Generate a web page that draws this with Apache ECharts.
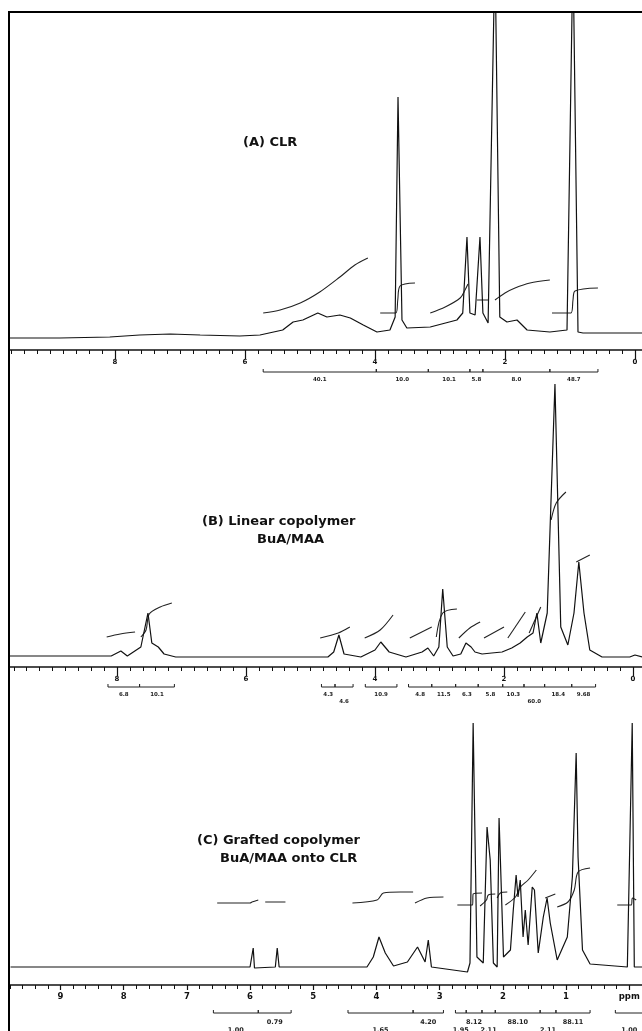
<!DOCTYPE html>
<html><head><meta charset="utf-8">
<script src="https://cdn.jsdelivr.net/npm/echarts@6/dist/echarts.min.js"></script>
<style>html,body{margin:0;padding:0;background:#fff}#c{width:642px;height:1031px}</style>
</head><body><div id="c"></div>
<script>
// ---------- DATA (ppm, intensity) ----------
const aSpectrum = [[9.62,-3],[8.85,-3],[8.08,-2],[7.62,0],[7.15,1],[6.69,0],[6.08,-1],[5.77,0],[5.42,5],[5.26,13],[5.11,15],[4.88,22],[4.74,18],[4.54,20],[4.38,17],[4.18,10],[3.97,3],[3.77,5],[3.69,18],[3.646,238],[3.585,15],[3.51,7],[3.15,8],[2.74,15],[2.65,22],[2.585,98],[2.54,22],[2.46,20],[2.385,98],[2.34,22],[2.26,12],[2.154,385],[2.08,18],[1.97,13],[1.815,15],[1.66,5],[1.31,3],[1.046,5],[0.954,385],[0.877,3],[0.80,2],[-0.108,2]];
const aIntegrals = [
  [[5.72,22],[5.46,25],[5.15,32],[4.85,43],[4.54,58],[4.31,70],[4.11,77]],
  [[3.92,22],[3.68,22],[3.65,35],[3.615,49],[3.385,52]],
  [[3.15,22],[2.92,28],[2.69,37],[2.615,45],[2.57,51]],
  [[2.43,35],[2.26,35]],
  [[2.154,35],[2.0,42],[1.846,47],[1.615,52],[1.31,55]],
  [[1.277,22],[0.985,22],[0.954,35],[0.923,44],[0.57,47]]
];
const aBrackets = [[5.72,3.98,'40.1'],[3.98,3.18,'10.0'],[3.18,2.54,'10.1'],[2.54,2.34,'5.8'],[2.34,1.31,'8.0'],[1.31,0.57,'48.7']];

const bSpectrum = [[9.66,1],[8.88,1],[8.09,1],[7.94,6],[7.84,1],[7.63,10],[7.52,44],[7.46,14],[7.36,10],[7.27,3],[7.09,0],[4.73,0],[4.64,5],[4.56,22],[4.48,3],[4.22,0],[4.0,7],[3.91,15],[3.78,5],[3.52,0],[3.27,5],[3.18,9],[3.09,1],[3.01,10],[2.95,68],[2.88,10],[2.79,1],[2.67,3],[2.59,14],[2.51,10],[2.45,5],[2.34,3],[2.19,4],[2.03,5],[1.88,9],[1.75,14],[1.64,20],[1.55,24],[1.49,44],[1.43,14],[1.33,44],[1.21,273],[1.12,30],[1.01,12],[0.915,44],[0.84,95],[0.76,44],[0.67,7],[0.48,0],[0.05,0],[-0.03,2],[-0.14,0]];
const bIntegrals = [
  [[8.16,20],[7.95,23],[7.72,25]],
  [[7.63,20],[7.55,27],[7.5,43],[7.33,50],[7.15,54]],
  [[4.85,19],[4.57,24],[4.39,30]],
  [[4.16,19],[3.92,27],[3.72,42]],
  [[3.46,19],[3.12,30]],
  [[3.05,20],[2.95,44],[2.73,48]],
  [[2.70,19],[2.53,29],[2.37,35]],
  [[2.31,19],[2.0,30]],
  [[1.94,19],[1.67,45]],
  [[1.61,24],[1.43,50]],
  [[1.27,137],[1.19,154],[1.04,165]],
  [[0.88,95],[0.67,102]]
];
const bBrackets = [[8.14,7.65,'6.8'],[7.65,7.11,'10.1'],[4.83,4.62,'4.3'],[4.62,4.34,'4.6'],[4.15,3.66,'10.9'],[3.48,3.12,'4.8'],[3.12,2.75,'11.5'],[2.75,2.40,'6.3'],[2.40,2.02,'5.8'],[2.02,1.69,'10.3'],[1.69,1.37,'60.0'],[1.37,0.95,'18.4'],[0.95,0.58,'9.68']];
const bLabelRows = [0,0,0,1,0,0,0,0,0,0,1,0,0];

const cSpectrum = [[9.79,0],[6.0,0],[5.97,2],[5.95,19],[5.93,-1],[5.90,0],[5.60,0],[5.57,19],[5.54,0],[4.15,0],[4.05,10],[3.96,30],[3.86,14],[3.73,1],[3.51,5],[3.35,20],[3.23,5],[3.18,27],[3.13,0],[2.56,-5],[2.52,4],[2.47,244],[2.41,10],[2.31,4],[2.25,140],[2.20,107],[2.15,4],[2.09,0],[2.06,149],[1.99,10],[1.88,17],[1.835,57],[1.79,92],[1.76,70],[1.725,87],[1.68,30],[1.645,57],[1.60,22],[1.535,80],[1.50,77],[1.44,14],[1.36,50],[1.30,69],[1.25,44],[1.14,7],[0.98,30],[0.90,90],[0.84,214],[0.81,110],[0.74,17],[0.62,3],[0.03,0],[0.016,0],[-0.047,244],[-0.08,0],[-0.21,0]];
const cIntegrals = [
  [[6.52,64],[6.0,64],[5.97,65],[5.87,67]],
  [[5.76,65],[5.44,65]],
  [[4.38,64],[3.99,67],[3.89,74],[3.62,75],[3.42,75]],
  [[3.39,64],[3.20,69],[2.94,70]],
  [[2.72,62],[2.48,62],[2.47,73],[2.33,74]],
  [[2.36,61],[2.26,67],[2.23,72],[2.12,73]],
  [[2.09,69],[2.04,74],[1.93,75]],
  [[1.96,62],[1.80,70],[1.72,80],[1.60,87],[1.47,97]],
  [[1.33,69],[1.17,73]],
  [[1.14,60],[0.97,65],[0.87,77],[0.81,95],[0.62,99]],
  [[0.19,62],[-0.03,62],[-0.05,69],[-0.11,67]]
];
const cBrackets = [[6.58,5.87,'1.00'],[5.87,5.35,'0.79'],[4.45,3.42,'1.65'],[3.42,2.94,'4.20'],[2.75,2.58,'1.95'],[2.58,2.33,'8.12'],[2.33,2.12,'2.11'],[2.12,1.41,'88.10'],[1.41,1.16,'2.11'],[1.16,0.62,'88.11'],[0.22,-0.22,'1.00']];
const cLabelRows = [1,0,1,0,1,0,1,0,1,0,1];

const panelTitles = [['(A) CLR'],['(B) Linear copolymer','BuA/MAA'],['(C) Grafted copolymer','BuA/MAA onto CLR']];

// ---------- CHART ----------
const INK = '#111';
const FONT = '"DejaVu Sans", sans-serif';
const yRanges = [[-15,323],[-10,277],[-18,267]];

function specSeries(gi, data){
  return {type:'line', xAxisIndex:gi, yAxisIndex:gi, data:data, showSymbol:false, silent:true,
    lineStyle:{color:INK, width:1.2}, z:3};
}
function intSeries(gi, data){
  return {type:'line', xAxisIndex:gi, yAxisIndex:gi, data:data, showSymbol:false, silent:true, smooth:0.3,
    lineStyle:{color:'#222', width:1.1}, z:2};
}
function bracketSeries(gi, regions, rows, lineOff, labOff, rowGap, fs){
  const yMin = yRanges[gi][0];
  return {type:'custom', xAxisIndex:gi, yAxisIndex:gi, clip:false, silent:true, z:4,
    data: regions.map((r,i)=>[r[0], r[1], i]),
    renderItem: function(params, api){
      const i = api.value(2);
      const r = regions[i];
      const p0 = api.coord([r[0], yMin]);
      const p1 = api.coord([r[1], yMin]);
      const y = p0[1] + lineOff;
      const row = rows ? rows[i] : 0;
      const st = {stroke:'#222', lineWidth:1};
      return {type:'group', children:[
        {type:'line', shape:{x1:p0[0], y1:y, x2:p1[0], y2:y}, style:st},
        {type:'line', shape:{x1:p0[0], y1:y, x2:p0[0], y2:y-3}, style:st},
        {type:'line', shape:{x1:p1[0], y1:y, x2:p1[0], y2:y-3}, style:st},
        {type:'text', x:(p0[0]+p1[0])/2, y:p0[1]+labOff+row*rowGap,
          style:{text:r[2], fill:'#222', font:'bold '+fs+'px '+FONT, align:'center', verticalAlign:'middle'}}
      ]};
    }
  };
}
function xAxis(gi, min, max, interval, minorSplit, labelFmt, labelSize, labelMargin, tickLen){
  return {type:'value', gridIndex:gi, inverse:true, min:min, max:max, interval:interval, position:'bottom',
    axisLine:{show:true, onZero:false, lineStyle:{color:INK, width:1.6}},
    axisTick:{show:true, inside:false, length:tickLen, lineStyle:{color:INK, width:1.2}},
    minorTick:{show:true, splitNumber:minorSplit, length:4, lineStyle:{color:INK, width:1}},
    splitLine:{show:false}, minorSplitLine:{show:false},
    axisLabel:{show:true, margin:labelMargin, color:INK, fontSize:labelSize, fontWeight:'bold', fontFamily:FONT, formatter:labelFmt, hideOverlap:false}
  };
}
const abFmt = v => (v < 0 || v >= 10) ? '' : String(v);
const cFmt = v => v === 0 ? 'ppm' : ((v < 0 || v >= 10) ? '' : String(v));

const series = [];
series.push(specSeries(0, aSpectrum));
aIntegrals.forEach(d => series.push(intSeries(0, d)));
series.push(bracketSeries(0, aBrackets, null, 22, 30, 7, 5.5));
series.push(specSeries(1, bSpectrum));
bIntegrals.forEach(d => series.push(intSeries(1, d)));
series.push(bracketSeries(1, bBrackets, bLabelRows, 20, 28, 7, 5.5));
series.push(specSeries(2, cSpectrum));
cIntegrals.forEach(d => series.push(intSeries(2, d)));
series.push(bracketSeries(2, cBrackets, cLabelRows, 28, 37, 8, 6.5));

function txt(x, y, s){
  return {type:'text', x:x, y:y, z:50, style:{text:s, fill:INK, font:'bold 13px '+FONT, verticalAlign:'middle'}};
}

const option = {
  animation:false,
  backgroundColor:'#fff',
  grid:[
    {left:-15, top:12, width:780, height:338, outerBoundsMode:'none', containLabel:false},
    {left:-12, top:380, width:774, height:287, outerBoundsMode:'none', containLabel:false},
    {left:-2.75, top:700, width:695.2, height:285, outerBoundsMode:'none', containLabel:false}
  ],
  xAxis:[
    xAxis(0, -2, 10, 2, 10, abFmt, 7, 9, 9),
    xAxis(1, -2, 10, 2, 10, abFmt, 7, 9, 9),
    xAxis(2, -1, 10, 1, 5, cFmt, 8.5, 7, 5)
  ],
  yAxis: yRanges.map((r,i)=>({type:'value', gridIndex:i, min:r[0], max:r[1], show:false})),
  series: series,
  graphic:[
    {type:'rect', z:40, shape:{x:0, y:0, width:8, height:1031}, style:{fill:'#fff'}},
    {type:'line', z:41, shape:{x1:9, y1:11, x2:9, y2:1031}, style:{stroke:'#000', lineWidth:2}},
    {type:'line', z:41, shape:{x1:8, y1:12, x2:642, y2:12}, style:{stroke:'#000', lineWidth:2}},
    txt(243, 143, panelTitles[0][0]),
    txt(202, 522, panelTitles[1][0]),
    txt(257, 540, panelTitles[1][1]),
    txt(197, 841, panelTitles[2][0]),
    txt(220, 859, panelTitles[2][1])
  ]
};
const chart = echarts.init(document.getElementById('c'), null, {renderer:'canvas'});
chart.setOption(option);
</script></body></html>
